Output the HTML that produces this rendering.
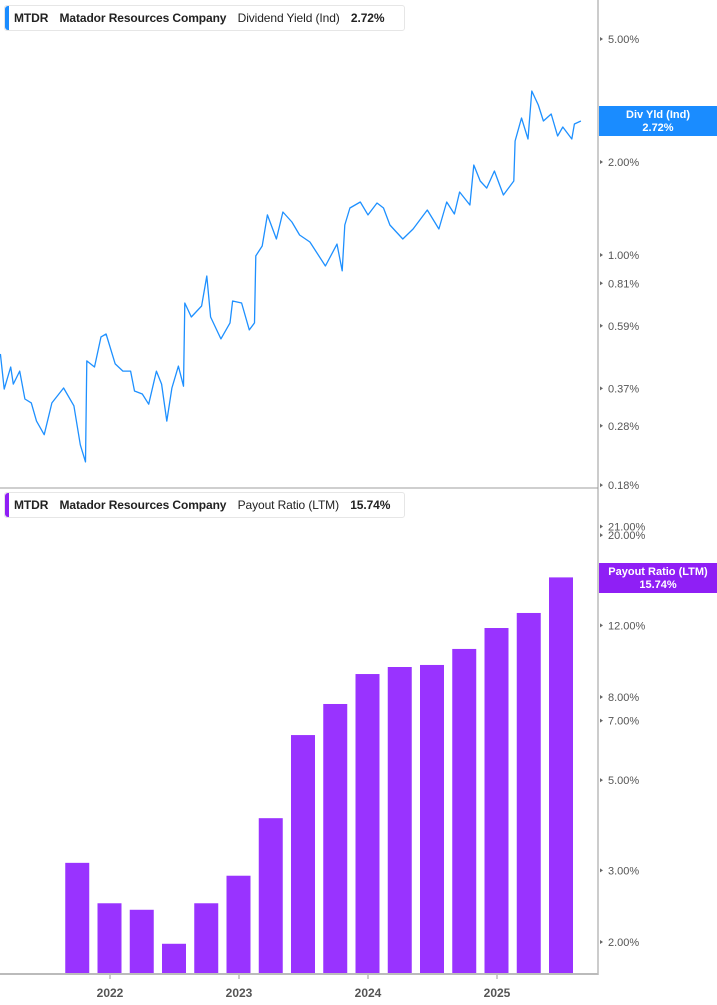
<!DOCTYPE html>
<html><head><meta charset="utf-8">
<style>
body{margin:0;background:#fff;font-family:"Liberation Sans",Arial,sans-serif;}
#wrap{position:relative;width:717px;height:1005px;overflow:hidden;}
svg{position:absolute;left:0;top:0;}
.legend{position:absolute;left:4px;height:24px;border:1px solid #e6e6e6;border-radius:3px;background:#fff;font-size:12px;font-weight:bold;color:#222;line-height:24px;padding-left:9px;white-space:nowrap;letter-spacing:-0.1px;}
.legend .bar{position:absolute;left:0;top:0;width:4px;height:24px;border-radius:3px 0 0 3px;}
.legend span{margin-right:8px;}
.legend .n{font-weight:normal;}
.badge{position:absolute;left:599px;width:118px;height:30px;color:#fff;font-size:11px;font-weight:bold;text-align:center;line-height:12.5px;padding-top:3px;box-sizing:border-box;}
</style></head>
<body>
<div id="wrap">
<svg id="chart" width="717" height="1005"></svg>
<div class="legend" style="top:5px;width:390px"><div class="bar" style="background:#1a8cff"></div><span>MTDR</span> <span>Matador Resources Company</span> <span class="n">Dividend Yield (Ind)</span> <span>2.72%</span></div>
<div class="legend" style="top:492px;width:390px"><div class="bar" style="background:#8f1ff5"></div><span>MTDR</span> <span>Matador Resources Company</span> <span class="n">Payout Ratio (LTM)</span> <span>15.74%</span></div>
<div class="badge" style="top:106px;background:#1a8cff">Div Yld (Ind)<br>2.72%</div>
<div class="badge" style="top:563px;background:#8f1ff5">Payout Ratio (LTM)<br>15.74%</div>
</div>
<script>
// Dividend yield series (decimal year offset from 2000, yield %)
const yieldTimes=[21.15,21.18,21.23,21.25,21.30,21.34,21.39,21.43,21.49,21.55,21.64,21.72,21.77,21.81,21.82,21.88,21.93,21.97,22.04,22.10,22.16,22.19,22.25,22.30,22.36,22.40,22.44,22.48,22.53,22.57,22.58,22.63,22.71,22.75,22.78,22.86,22.93,22.95,23.02,23.08,23.12,23.13,23.18,23.22,23.29,23.34,23.41,23.47,23.55,23.67,23.76,23.80,23.82,23.86,23.94,24.00,24.07,24.12,24.17,24.27,24.35,24.46,24.55,24.61,24.67,24.71,24.79,24.82,24.87,24.92,24.98,25.05,25.13,25.14,25.19,25.24,25.27,25.32,25.36,25.42,25.47,25.51,25.58,25.60,25.65];
const yieldValues=[0.478,0.368,0.434,0.382,0.421,0.342,0.332,0.290,0.262,0.332,0.371,0.325,0.243,0.214,0.454,0.434,0.543,0.555,0.444,0.421,0.421,0.363,0.355,0.329,0.421,0.382,0.290,0.371,0.437,0.376,0.699,0.630,0.684,0.855,0.630,0.535,0.603,0.710,0.699,0.572,0.603,0.993,1.069,1.348,1.127,1.378,1.279,1.161,1.102,0.921,1.085,0.888,1.251,1.419,1.484,1.348,1.473,1.419,1.251,1.127,1.214,1.398,1.214,1.484,1.357,1.599,1.452,1.956,1.736,1.647,1.870,1.564,1.736,2.339,2.776,2.374,3.395,3.059,2.715,2.860,2.428,2.596,2.374,2.655,2.715];
const yieldTicks=[5.00,2.00,1.00,0.81,0.59,0.37,0.28,0.18];
// Payout ratio bars (quarterly)
const payoutQuarters=["2021Q3","2021Q4","2022Q1","2022Q2","2022Q3","2022Q4","2023Q1","2023Q2","2023Q3","2023Q4","2024Q1","2024Q2","2024Q3","2024Q4","2025Q1","2025Q2"];
const payoutValues=[3.13,2.49,2.40,1.98,2.49,2.91,4.03,6.45,7.69,9.11,9.48,9.59,10.5,11.82,12.87,15.74];
const payoutTicks=[21.00,20.00,12.00,8.00,7.00,5.00,3.00,2.00];
const yearLabels=[2022,2023,2024,2025];

const NS="http://www.w3.org/2000/svg";
const svg=document.getElementById('chart');
function mk(tag,attrs,parent){const e=document.createElementNS(NS,tag);for(const k in attrs)e.setAttribute(k,attrs[k]);(parent||svg).appendChild(e);return e;}
const xT=t=>110+(t-2022)*129;
const yTop=v=>255-93*Math.log2(v);
const yBot=v=>942-122.5*Math.log2(v/2);
const AX=598;

let sep=mk('line',{x1:0,x2:AX,y1:488,y2:488,stroke:'#cfcfcf','stroke-width':2});


let ya=mk('line',{x1:AX,x2:AX,y1:0,y2:975,stroke:'#999','stroke-width':1});


let xa=mk('line',{x1:0,x2:AX,y1:974,y2:974,stroke:'#bbb','stroke-width':2});



function tick(y,label,name){
  const p=mk('path',{d:`M${AX+2} ${y-2}L${AX+5} ${y}L${AX+2} ${y+2}Z`,fill:'#666'});
  
  
  const t=mk('text',{x:AX+10,y:y+4,'font-size':11,fill:'#555'});
  t.textContent=label;
  
  
}
yieldTicks.forEach(v=>tick(yTop(v),v.toFixed(2)+'%','yield-tick-label'));
payoutTicks.forEach(v=>tick(yBot(v),v.toFixed(2)+'%','payout-tick-label'));

let d='';
yieldTimes.forEach((t,i)=>{d+=(i?'L':'M')+xT(2000+t).toFixed(1)+' '+yTop(yieldValues[i]).toFixed(1);});
const line=mk('path',{d:d,fill:'none',stroke:'#1e90ff','stroke-width':1.3,'stroke-linejoin':'round'});



payoutQuarters.forEach((q,i)=>{
  const yr=+q.slice(0,4), qn=+q.slice(5);
  const cx=xT(yr+qn*0.25)-0.5;
  const top=yBot(payoutValues[i]);
  const r=mk('rect',{x:cx-12,y:top,width:24,height:973-top,fill:'#9933ff'});
  
  
});

yearLabels.forEach(yv=>{
  const x=xT(yv);
  const tk=mk('line',{x1:x,x2:x,y1:975,y2:979,stroke:'#999'});
  
  
  const t=mk('text',{x:x,y:997,'font-size':12,'font-weight':'bold',fill:'#555','text-anchor':'middle'});
  t.textContent=yv;
  
  
});
</script>
</body></html>
